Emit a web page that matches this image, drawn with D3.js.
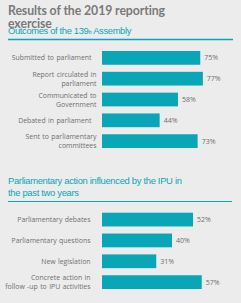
<!DOCTYPE html>
<html><head><meta charset="utf-8">
<script src="https://cdn.jsdelivr.net/npm/d3@7"></script>
<style>
html,body{margin:0;padding:0;background:#ececec;}
svg{display:block;}
</style></head>
<body>
<svg id="c" width="241" height="303"></svg>
<script>
const title = ["Results of the 2019 reporting", "exercise"];
const sub1 = "Outcomes of the 139";
const sub1Sup = "th";
const sub1End = " Assembly";
const cats1 = [["Submitted to parliament"], ["Report circulated in", "parliament"], ["Communicated to", "Government"], ["Debated in parliament"], ["Sent to parliamentary", "committees"]];
const vals1 = [75, 77, 58, 44, 73];
const title2 = ["Parliamentary action influenced by the IPU in", "the past two years"];
const cats2 = [["Parliamentary debates"], ["Parliamentary questions"], ["New legislation"], ["Concrete action in", "follow -up to IPU activities"]];
const vals2 = [52, 40, 31, 57];

const teal = "#08a6b6", gray = "#6f6f6f";
const svg = d3.select("#c");
svg.append("rect").attr("width",241).attr("height",303).attr("fill","#ececec");

// Title
svg.append("g").selectAll("text").data(title).join("text")
  .attr("x",8).attr("y",(d,i)=>15+i*13)
  .attr("font-family","Lato, 'Open Sans', sans-serif").attr("font-weight","bold")
  .attr("font-size",12.3).attr("fill","#7a7a7a").attr("letter-spacing",-0.1)
  .text(d=>d);
const st = svg.append("text").attr("x",8).attr("y",33.5)
  .attr("font-family","'Liberation Sans', Arial, sans-serif").attr("font-size",9.4)
  .attr("fill",teal).attr("letter-spacing",-0.35);
st.append("tspan").text(sub1);
st.append("tspan").attr("font-size",4.5).attr("dy",0.5).text(sub1Sup);
st.append("tspan").attr("dy",-0.5).text(sub1End);
svg.append("line").attr("x1",8).attr("x2",233).attr("y1",39.5).attr("y2",39.5)
  .attr("stroke",teal).attr("stroke-width",1.5);

// Title 2
svg.append("g").selectAll("text").data(title2).join("text")
  .attr("x",8).attr("y",(d,i)=>184+i*11.6)
  .attr("font-family","'Liberation Sans', Arial, sans-serif").attr("font-size",9.4)
  .attr("fill",teal).attr("letter-spacing",-0.3).text(d=>d);
svg.append("line").attr("x1",8).attr("x2",232).attr("y1",201.5).attr("y2",201.5)
  .attr("stroke",teal).attr("stroke-width",1);

function chart(cats, vals, top, bottom, pxPerPct, labelX, singleShift) {
  const x = d3.scaleLinear().domain([0,100]).range([102, 102+100*pxPerPct]);
  const y = d3.scaleBand().domain(d3.range(cats.length)).range([top,bottom]).paddingInner(0.34).paddingOuter(0);
  const g = svg.append("g");
  g.selectAll("rect").data(vals).join("rect")
    .attr("x",x(0)).attr("y",(d,i)=>y(i)).attr("width",d=>x(d)-x(0)).attr("height",y.bandwidth())
    .attr("fill",teal);
  g.selectAll("text.v").data(vals).join("text").attr("class","v")
    .attr("x",d=>x(d)+4).attr("y",(d,i)=>y(i)+y.bandwidth()/2+2.6)
    .attr("font-family","'Open Sans', sans-serif").attr("font-size",7).attr("fill",gray)
    .text(d=>d+"%");
  cats.forEach((lines,i)=>{
    const cy = y(i)+y.bandwidth()/2;
    const lx = lines.length===1 ? labelX-singleShift : labelX;
    lines.forEach((ln,j)=>{
      g.append("text").attr("x",lx).attr("y",cy+(j-(lines.length-1)/2)*9+2.6)
        .attr("text-anchor","end").attr("font-family","'Open Sans', sans-serif")
        .attr("font-size",6.9).attr("fill",gray).attr("word-spacing",0.6).text(ln);
    });
  });
}
chart(cats1, vals1, 51, 148, 1.31, 96.5, 5);
chart(cats2, vals2, 212.7, 289, 1.75, 90.5, 0);
</script>
</body></html>
